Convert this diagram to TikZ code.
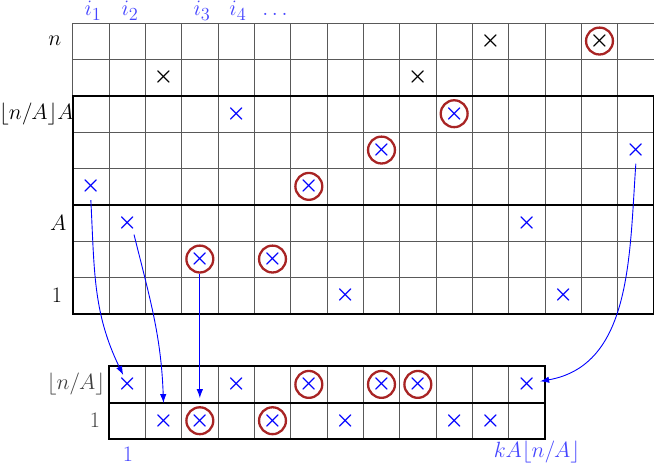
\documentclass[tikz,border=0pt]{standalone}
\usepackage{amsmath}
\usetikzlibrary{arrows.meta,calc}
\definecolor{ringred}{RGB}{168,36,36}
\definecolor{lblblue}{RGB}{70,70,255}
\newcommand{\bigfnt}{\fontsize{19}{23}\selectfont}
\begin{document}
\begin{tikzpicture}[x=1cm,y=1cm,
  thingrid/.style={black!65, line width=0.5pt},
  thickline/.style={black, line width=1.6pt},
  mk/.style={circle, inner sep=0pt, minimum size=0.74cm, text=blue, font=\bigfnt},
  mkblack/.style={mk, text=black},
  ring/.style={mk, draw=ringred, line width=1.8pt},
  ringblack/.style={ring, text=black},
  conn/.style={blue, line width=0.7pt, -{Latex[length=7pt,width=5pt]}},
  rowlbl/.style={font=\bigfnt, text=black},
  botlbl/.style={font=\bigfnt, text=black!75},
  collbl/.style={font=\bigfnt, text=lblblue, anchor=base},
]
\useasboundingbox (0,0) rectangle (18,12.88);

% top grid
\foreach \x in {2,...,18} \draw[thingrid] (\x,4.25) -- (\x,12.25);
\foreach \y in {0,...,8} \draw[thingrid] (2,4.25+\y) -- (18,4.25+\y);
\draw[thickline] (2,4.25) rectangle (18,10.25);
\draw[thickline] (2,7.25) -- (18,7.25);

% bottom grid
\foreach \x in {3,...,15} \draw[thingrid] (\x,0.8) -- (\x,2.8);
\draw[thickline] (3,0.8) rectangle (15,2.8);
\draw[thickline] (3,1.8) -- (15,1.8);

% top marks
\node[mk]         (t1)  at (2.5,7.75)  {$\boldsymbol{\times}$};
\node[mk]         (t2)  at (3.5,6.75)  {$\boldsymbol{\times}$};
\node[mkblack]    (t3)  at (4.5,10.75) {$\boldsymbol{\times}$};
\node[ring]       (t4)  at (5.5,5.75)  {$\boldsymbol{\times}$};
\node[mk]         (t5)  at (6.5,9.75)  {$\boldsymbol{\times}$};
\node[ring]       (t6)  at (7.5,5.75)  {$\boldsymbol{\times}$};
\node[ring]       (t7)  at (8.5,7.75)  {$\boldsymbol{\times}$};
\node[mk]         (t8)  at (9.5,4.75)  {$\boldsymbol{\times}$};
\node[ring]       (t9)  at (10.5,8.75) {$\boldsymbol{\times}$};
\node[mkblack]    (t10) at (11.5,10.75){$\boldsymbol{\times}$};
\node[ring]       (t11) at (12.5,9.75) {$\boldsymbol{\times}$};
\node[mkblack]    (t12) at (13.5,11.75){$\boldsymbol{\times}$};
\node[mk]         (t13) at (14.5,6.75) {$\boldsymbol{\times}$};
\node[mk]         (t14) at (15.5,4.75) {$\boldsymbol{\times}$};
\node[ringblack]  (t15) at (16.5,11.75){$\boldsymbol{\times}$};
\node[mk]         (t16) at (17.5,8.75) {$\boldsymbol{\times}$};

% bottom marks
\node[mk]   (b1)  at (3.5,2.3)  {$\boldsymbol{\times}$};
\node[mk]   (b2)  at (4.5,1.3)  {$\boldsymbol{\times}$};
\node[ring] (b3)  at (5.5,1.3)  {$\boldsymbol{\times}$};
\node[mk]   (b4)  at (6.5,2.3)  {$\boldsymbol{\times}$};
\node[ring] (b5)  at (7.5,1.3)  {$\boldsymbol{\times}$};
\node[ring] (b6)  at (8.5,2.3)  {$\boldsymbol{\times}$};
\node[mk]   (b7)  at (9.5,1.3)  {$\boldsymbol{\times}$};
\node[ring] (b8)  at (10.5,2.3) {$\boldsymbol{\times}$};
\node[ring] (b9)  at (11.5,2.3) {$\boldsymbol{\times}$};
\node[mk]   (b10) at (12.5,1.3) {$\boldsymbol{\times}$};
\node[mk]   (b11) at (13.5,1.3) {$\boldsymbol{\times}$};
\node[mk]   (b12) at (14.5,2.3) {$\boldsymbol{\times}$};

% row labels
\node[rowlbl] (ln)  at (1.51,11.75) {$n$};
\node[rowlbl] (lnA) at (1.00,9.75)  {$\lfloor n/A\rfloor A$};
\node[rowlbl] (lA)  at (1.60,6.75)  {$A$};
\node[rowlbl] (l1)  at (1.57,4.75)  {$1$};
\node[botlbl] (bnA) at (2.09,2.3)   {$\lfloor n/A\rfloor$};
\node[botlbl] (bl1) at (2.61,1.3)   {$1$};

% column labels
\node[collbl] (i1) at (2.56,12.44) {$i_1$};
\node[collbl] (i2) at (3.58,12.44) {$i_2$};
\node[collbl] (i3) at (5.56,12.44) {$i_3$};
\node[collbl] (i4) at (6.55,12.44) {$i_4$};
\node[collbl] (id) at (7.62,12.44) {$\dots$};
\node[collbl] (c1) at (3.52,0.19)  {$1$};
\node[collbl] (ck) at (14.78,0.30) {$kA\lfloor n/A\rfloor$};

% connectors
\draw[conn] (t1.south) to[out=-87,in=116] ($(b1)+(-0.11,0.26)$);
\draw[conn] (t2.-60) to[out=-76,in=92] ($(b2.north)+(0,0.11)$);
\draw[conn] (t4.south) -- ($(b3.north)+(0,0.22)$);
\draw[conn] (t16.south) to[out=-94,in=10] (b12.13);
\end{tikzpicture}
\end{document}
